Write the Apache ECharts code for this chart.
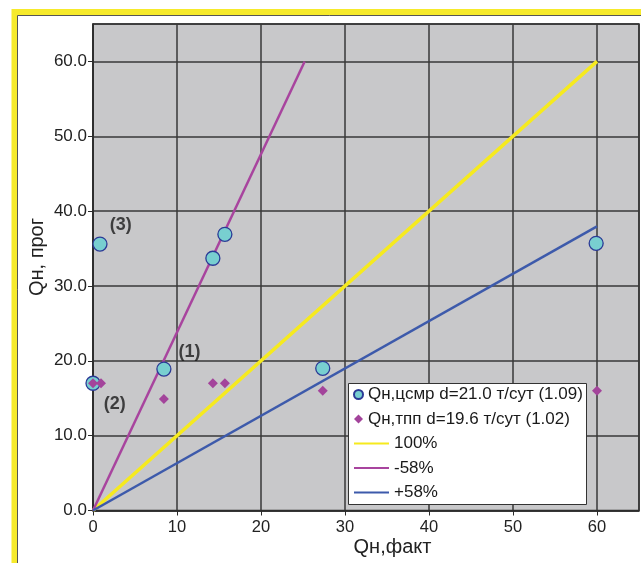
<!DOCTYPE html>
<html><head><meta charset="utf-8">
<script src="https://cdn.jsdelivr.net/npm/echarts@6/dist/echarts.min.js"></script>
<style>html,body{margin:0;padding:0;background:#fff}#c{width:641px;height:563px}</style>
</head><body><div id="c"></div>
<script>
// Series data (x = Qн,факт ; y = Qн,прог)
const tsmrPoints = [[0, 17.0], [8.44, 18.9], [14.27, 33.7], [15.7, 36.9], [0.83, 35.6], [27.35, 19.0], [59.9, 35.7]];
const tppPoints = [[0, 17.0], [0.95, 17.0], [8.44, 14.9], [14.27, 17.0], [15.7, 17.0], [27.35, 16.0], [60, 16.0]];
const line100 = [[0, 0], [60, 60]];
const lineMinus58 = [[0, 0], [25.2, 60]];
const linePlus58 = [[0, 0], [60, 37.97]];
const annotations = [[3.3, 38.1, '(3)'], [11.5, 21.2, '(1)'], [2.6, 14.2, '(2)']];
const seriesNames = ['Qн,цсмр d=21.0 т/сут (1.09)', 'Qн,тпп d=19.6 т/сут (1.02)', '100%', '-58%', '+58%'];
const xAxisTitle = 'Qн,факт';
const yAxisTitle = 'Qн, прог';

const FONT = "'Liberation Sans', Arial, sans-serif";
const chart = echarts.init(document.getElementById('c'), null, {renderer: 'canvas'});
chart.setOption({
  animation: false,
  backgroundColor: '#ffffff',
  textStyle: {fontFamily: FONT},
  grid: {left: 93, right: 2, top: 24, bottom: 52.5, show: true, backgroundColor: '#c8c8ca', borderColor: '#2a2a2a', borderWidth: 1.5},
  xAxis: {
    type: 'value', min: 0, max: 65, interval: 10,
    axisLine: {show: true, onZero: false, lineStyle: {color: '#2a2a2a', width: 1.5}},
    axisTick: {show: true, length: 5, lineStyle: {color: '#2a2a2a'}},
    axisLabel: {color: '#222', fontSize: 16.5, fontFamily: FONT, margin: 8, showMaxLabel: false, formatter: v => String(v)},
    splitLine: {show: true, lineStyle: {color: '#383838', width: 1.5}}
  },
  yAxis: {
    type: 'value', min: 0, max: 65, interval: 10,
    axisLine: {show: true, onZero: false, lineStyle: {color: '#2a2a2a', width: 1.5}},
    axisTick: {show: true, length: 5, lineStyle: {color: '#2a2a2a'}},
    axisLabel: {color: '#222', fontSize: 17, fontFamily: FONT, margin: 6, showMaxLabel: false, formatter: v => v.toFixed(1)},
    splitLine: {show: true, lineStyle: {color: '#383838', width: 1.5}}
  },
  legend: [
    {
      data: [seriesNames[0], seriesNames[1]], orient: 'vertical', left: 353, top: 386, padding: 0,
      itemWidth: 9, itemHeight: 9, itemGap: 7.5, selectedMode: false,
      textStyle: {fontSize: 17, color: '#1a1a1a', fontFamily: FONT}
    },
    {
      data: [seriesNames[2], seriesNames[3], seriesNames[4]], orient: 'vertical', left: 353, top: 435, padding: 0,
      itemWidth: 35, itemHeight: 1, itemGap: 7.5, selectedMode: false,
      itemStyle: {opacity: 0},
      textStyle: {fontSize: 17, color: '#1a1a1a', fontFamily: FONT}
    }
  ],
  graphic: [
    {type: 'rect', shape: {x: 14.5, y: 12, width: 800, height: 800}, style: {fill: 'none', stroke: '#f6ea2b', lineWidth: 6}, silent: true, z: 0},
    {type: 'rect', shape: {x: 17.5, y: 15.5, width: 800, height: 800}, style: {fill: 'none', stroke: '#555', lineWidth: 1}, silent: true, z: 0},
    {type: 'rect', shape: {x: 348.5, y: 383.5, width: 238, height: 121}, style: {fill: '#ffffff', stroke: '#333', lineWidth: 1}, silent: true, z: 3},
    {type: 'text', x: 392.5, y: 547, style: {text: xAxisTitle, fontSize: 20, fontFamily: FONT, fill: '#222', align: 'center', verticalAlign: 'middle'}, silent: true},
    {type: 'text', x: 37, y: 257, rotation: Math.PI / 2, style: {text: yAxisTitle, fontSize: 20, fontFamily: FONT, fill: '#222', align: 'center', verticalAlign: 'middle'}, silent: true}
  ],
  series: [
    {name: seriesNames[2], type: 'line', data: line100, symbol: 'none', lineStyle: {color: '#f6ea1e', width: 3.5}, itemStyle: {color: '#f6ea1e'}, z: 2},
    {name: seriesNames[3], type: 'line', data: lineMinus58, symbol: 'none', lineStyle: {color: '#a8449e', width: 2.5}, itemStyle: {color: '#a8449e'}, z: 2},
    {name: seriesNames[4], type: 'line', data: linePlus58, symbol: 'none', lineStyle: {color: '#3d5aab', width: 2.5}, itemStyle: {color: '#3d5aab'}, z: 2},
    {name: seriesNames[0], type: 'scatter', data: tsmrPoints, symbol: 'circle', symbolSize: 14,
     itemStyle: {color: '#78cfd0', borderColor: '#2b3a96', borderWidth: 1.3, opacity: 1}, z: 2},
    {name: seriesNames[1], type: 'scatter', data: tppPoints, symbol: 'diamond', symbolSize: 10,
     itemStyle: {color: '#a3449b', opacity: 1}, z: 2},
    {name: 'annotations', type: 'scatter', data: annotations, symbolSize: 1, silent: true,
     itemStyle: {color: 'rgba(0,0,0,0)'},
     label: {show: true, position: 'inside', formatter: p => p.value[2], fontSize: 18, fontWeight: 'bold', color: '#1a1a1a', fontFamily: FONT}, z: 2}
  ]
});
</script></body></html>
